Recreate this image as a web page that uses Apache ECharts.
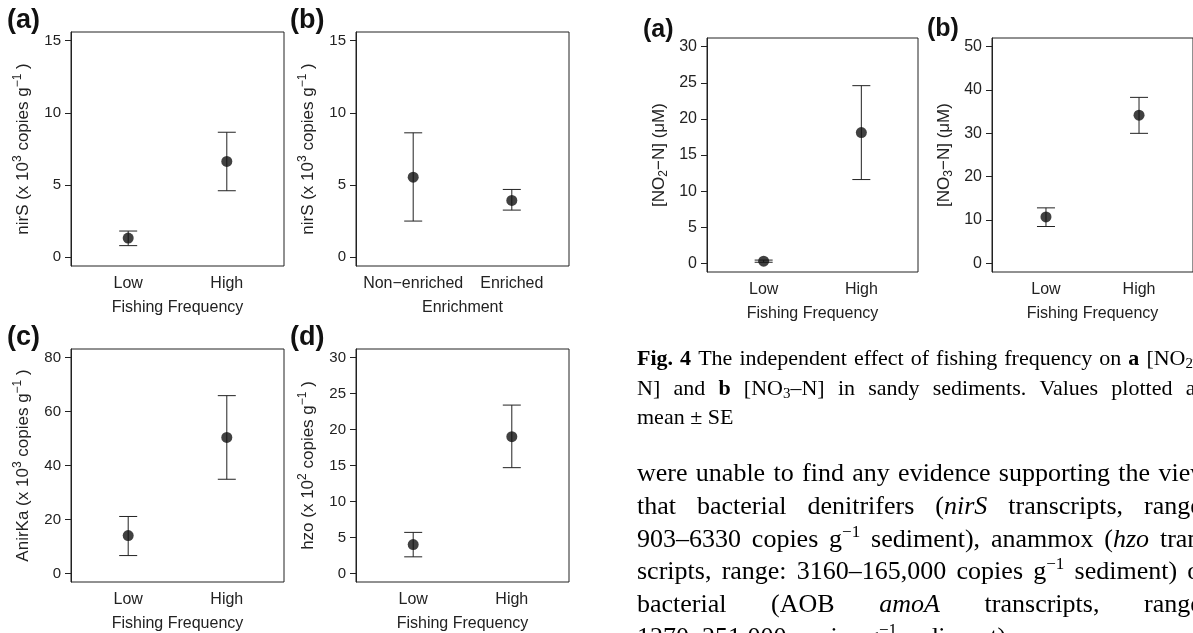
<!DOCTYPE html>
<html>
<head>
<meta charset="utf-8">
<title>nirS, AnirKa, hzo and nutrient panels</title>
<script src="https://cdn.jsdelivr.net/npm/echarts@6.0.0/dist/echarts.min.js"></script>
<style>
  html, body { margin: 0; padding: 0; background: #fff; }
  #chart { width: 1193px; height: 633px; }
</style>
</head>
<body>
<div id="chart"></div>
<script>
// categories
const fishingCats = ['Low', 'High'];
const enrichCats = ['Non\u2212enriched', 'Enriched'];

// nirS by fishing frequency (x 10^3 copies g-1): mean, lower and upper SE
const nirsFishMean = [1.33, 6.64];
const nirsFishLow = [0.81, 4.61];
const nirsFishHigh = [1.82, 8.66];
// nirS by enrichment
const nirsEnrMean = [5.55, 3.94];
const nirsEnrLow = [2.51, 3.27];
const nirsEnrHigh = [8.62, 4.70];
// AnirKa (x 10^3 copies g-1)
const anirkaMean = [14.0, 50.4];
const anirkaLow = [6.6, 34.9];
const anirkaHigh = [21.1, 65.9];
// hzo (x 10^2 copies g-1)
const hzoMean = [4.0, 19.0];
const hzoLow = [2.3, 14.7];
const hzoHigh = [5.7, 23.4];
// Fig. 4: NO2-N and NO3-N (uM)
const no2Mean = [0.3, 18.1];
const no2Low = [0.15, 11.6];
const no2High = [0.45, 24.6];
const no3Mean = [10.7, 34.2];
const no3Low = [8.5, 30.0];
const no3High = [12.8, 38.3];

// y tick labels
const ticks15 = [0, 5, 10, 15];
const ticks80 = [0, 20, 40, 60, 80];
const ticks30 = [0, 5, 10, 15, 20, 25, 30];
const ticks50 = [0, 10, 20, 30, 40, 50];

const ink = '#222';
const sans = '"Liberation Sans", Arial, sans-serif';
const serif = '"Liberation Serif", "Times New Roman", serif';

const supRich = {
  n: { fontFamily: sans, fontSize: 17, color: ink, lineHeight: 22 },
  s: { fontFamily: sans, fontSize: 12, color: ink, lineHeight: 12, verticalAlign: 'top' }
};
const subRich = {
  n: { fontFamily: sans, fontSize: 17, color: ink, lineHeight: 22 },
  s: { fontFamily: sans, fontSize: 12, color: ink, lineHeight: 12, verticalAlign: 'bottom' }
};

const panels = [
  { box: [71, 32, 213, 234], cats: fishingCats, mean: nirsFishMean, lo: nirsFishLow, hi: nirsFishHigh,
    ticks: ticks15, xName: 'Fishing Frequency', yName: '{n|nirS (x 10}{s|3}{n| copies g}{s|\u22121}{n| )}', rich: supRich, fs: 15 },
  { box: [356, 32, 213, 234], cats: enrichCats, mean: nirsEnrMean, lo: nirsEnrLow, hi: nirsEnrHigh,
    ticks: ticks15, xName: 'Enrichment', yName: '{n|nirS (x 10}{s|3}{n| copies g}{s|\u22121}{n| )}', rich: supRich, fs: 15 },
  { box: [71, 349, 213, 234], cats: fishingCats, mean: anirkaMean, lo: anirkaLow, hi: anirkaHigh,
    ticks: ticks80, xName: 'Fishing Frequency', yName: '{n|AnirKa (x 10}{s|3}{n| copies g}{s|\u22121}{n| )}', rich: supRich, fs: 15 },
  { box: [356, 349, 213, 234], cats: fishingCats, mean: hzoMean, lo: hzoLow, hi: hzoHigh,
    ticks: ticks30, xName: 'Fishing Frequency', yName: '{n|hzo (x 10}{s|2}{n| copies g}{s|\u22121}{n| )}', rich: supRich, fs: 15 },
  { box: [707, 38, 211, 234], cats: fishingCats, mean: no2Mean, lo: no2Low, hi: no2High,
    ticks: ticks30, xName: 'Fishing Frequency', yName: '{n|[NO}{s|2}{n|\u2212N] (\u03bcM)}', rich: subRich, fs: 16 },
  { box: [992, 38, 211, 234], cats: fishingCats, mean: no3Mean, lo: no3Low, hi: no3High,
    ticks: ticks50, xName: 'Fishing Frequency', yName: '{n|[NO}{s|3}{n|\u2212N] (\u03bcM)}', rich: subRich, fs: 16 }
];

function drawErrorBar(params, api) {
  const x = api.value(0);
  const top = api.coord([x, api.value(2)]);
  const bot = api.coord([x, api.value(1)]);
  const cap = 9;
  const style = { stroke: ink, lineWidth: 1 };
  return {
    type: 'group',
    children: [
      { type: 'line', shape: { x1: top[0], y1: top[1], x2: bot[0], y2: bot[1] }, style },
      { type: 'line', shape: { x1: top[0] - cap, y1: top[1], x2: top[0] + cap, y2: top[1] }, style },
      { type: 'line', shape: { x1: bot[0] - cap, y1: bot[1], x2: bot[0] + cap, y2: bot[1] }, style }
    ]
  };
}

const grid = [], xAxis = [], yAxis = [], series = [];
panels.forEach((p, i) => {
  const yTop = p.ticks[p.ticks.length - 1];
  const pad = yTop * 0.04;
  grid.push({ left: p.box[0], top: p.box[1], width: p.box[2], height: p.box[3],
    show: true, borderColor: ink, borderWidth: 1, backgroundColor: 'transparent' });
  xAxis.push({
    gridIndex: i, type: 'value', min: 0.42, max: 2.58,
    axisLine: { show: false, onZero: false }, axisTick: { show: false }, splitLine: { show: false },
    axisLabel: { customValues: [1, 2], formatter: v => p.cats[Math.round(v) - 1],
      margin: 10, fontSize: 16, fontFamily: sans, color: ink },
    name: p.xName, nameLocation: 'middle', nameGap: 34,
    nameTextStyle: { fontSize: 16, fontFamily: sans, color: ink }
  });
  yAxis.push({
    gridIndex: i, type: 'value', min: -pad, max: yTop + pad,
    axisLine: { show: true, onZero: false, lineStyle: { color: ink } },
    splitLine: { show: false },
    axisTick: { show: true, customValues: p.ticks, length: 6, lineStyle: { color: ink } },
    axisLabel: { customValues: p.ticks, margin: 10, fontSize: p.fs, fontFamily: sans, color: ink },
    name: p.yName, nameLocation: 'middle', nameRotate: 90, nameGap: 37,
    nameTextStyle: { rich: p.rich }
  });
  series.push({
    type: 'custom', xAxisIndex: i, yAxisIndex: i, silent: true, z: 2,
    renderItem: drawErrorBar,
    data: p.mean.map((m, k) => [k + 1, p.lo[k], p.hi[k]])
  });
  series.push({
    type: 'scatter', xAxisIndex: i, yAxisIndex: i, silent: true, z: 3,
    symbolSize: 11, itemStyle: { color: '#111' },
    data: p.mean.map((m, k) => [k + 1, m])
  });
});

// ---- page text next to Fig. 4 (justified column, cut off at the right) ----
const captionRich = {
  n: { fontFamily: serif, fontSize: 22, color: '#111', lineHeight: 26 },
  b: { fontFamily: serif, fontSize: 22, fontWeight: 'bold', color: '#111', lineHeight: 26 },
  sub: { fontFamily: serif, fontSize: 15, color: '#111', lineHeight: 15, verticalAlign: 'bottom' }
};
const bodyRich = {
  n: { fontFamily: serif, fontSize: 26, color: '#111', lineHeight: 32 },
  i: { fontFamily: serif, fontSize: 26, fontStyle: 'italic', color: '#111', lineHeight: 32 },
  sup: { fontFamily: serif, fontSize: 17, color: '#111', lineHeight: 16, verticalAlign: 'top' }
};
const captionLines = [
  '{b|Fig.} {b|4} The independent effect of fishing frequency on {b|a} [NO{sub|2}\u2013',
  'N] and {b|b} [NO{sub|3}\u2013N] in sandy sediments. Values plotted as',
  'mean \u00b1 SE'
];
const bodyLines = [
  'were unable to find any evidence supporting the view',
  'that bacterial denitrifers ({i|nirS} transcripts, range:',
  '903\u20136330 copies g{sup|\u22121} sediment), anammox ({i|hzo} tran-',
  'scripts, range: 3160\u2013165,000 copies g{sup|\u22121} sediment) or',
  'bacterial (AOB {i|amoA} transcripts, range:',
  '1270\u2013251,000 copies g{sup|\u22121} sediment) were'
];
const columnLeft = 637;
const captionRight = 1204;
const bodyRight = 1209;

const measureCtx = document.createElement('canvas').getContext('2d');
function fontOf(st) {
  return (st.fontStyle || 'normal') + ' ' + (st.fontWeight || 'normal') + ' ' + st.fontSize + 'px ' + st.fontFamily;
}
// split a marked-up string into {style, text} pieces; plain text gets style n
function pieces(str) {
  const out = [];
  const re = /\{(\w+)\|([^}]*)\}|([^{]+)/g;
  let m;
  while ((m = re.exec(str))) {
    if (m[1]) out.push({ s: m[1], t: m[2] });
    else out.push({ s: 'n', t: m[3] });
  }
  return out;
}
function wordWidth(word, rich) {
  return pieces(word).reduce((w, p) => {
    measureCtx.font = fontOf(rich[p.s]);
    return w + measureCtx.measureText(p.t).width;
  }, 0);
}
function markup(word) {
  return pieces(word).map(p => '{' + p.s + '|' + p.t + '}').join('');
}
// one text element per line; justified lines get a fixed-width spacer token
function textLine(str, rich, x0, x1, y, justify, key) {
  const words = str.split(' ');
  const lineRich = Object.assign({}, rich);
  const minGap = rich.n.fontSize * 0.2;
  let gap = rich.n.fontSize * 0.25;
  if (justify && words.length > 1) {
    const used = words.reduce((s, w) => s + wordWidth(w, rich), 0);
    gap = Math.max(minGap, (x1 - x0 - used) / (words.length - 1));
  }
  lineRich[key] = Object.assign({}, rich.n, { width: gap });
  return {
    type: 'text', x: x0, y: y, silent: true,
    style: { text: words.map(markup).join('{' + key + '| }'), rich: lineRich,
      align: 'left', verticalAlign: 'middle', textAlign: 'left', textVerticalAlign: 'middle' }
  };
}

const graphic = [];
const panelLabel = (txt, x, y, size) => ({
  type: 'text', x: x, y: y, silent: true,
  style: { text: txt, fontFamily: sans, fontWeight: 'bold', fontSize: size, fill: '#111',
    align: 'left', verticalAlign: 'middle', textAlign: 'left', textVerticalAlign: 'middle' }
});
graphic.push(panelLabel('(a)', 7, 21, 27));
graphic.push(panelLabel('(b)', 290, 21, 27));
graphic.push(panelLabel('(c)', 7, 338, 27));
graphic.push(panelLabel('(d)', 290, 338, 27));
graphic.push(panelLabel('(a)', 643, 30, 25));
graphic.push(panelLabel('(b)', 927, 29, 25));

const captionY = [359, 389, 418];
captionLines.forEach((l, k) => {
  graphic.push(textLine(l, captionRich, columnLeft, captionRight, captionY[k], k < captionLines.length - 1, 'gap' + k));
});
const bodyY = [474, 507, 540, 572, 605, 638];
bodyLines.forEach((l, k) => {
  graphic.push(textLine(l, bodyRich, columnLeft, bodyRight, bodyY[k], k < bodyLines.length - 1, 'gap' + k));
});

const chart = echarts.init(document.getElementById('chart'), null, { renderer: 'canvas' });
chart.setOption({
  animation: false,
  backgroundColor: '#fff',
  grid: grid,
  xAxis: xAxis,
  yAxis: yAxis,
  series: series,
  graphic: graphic
});
</script>
</body>
</html>
